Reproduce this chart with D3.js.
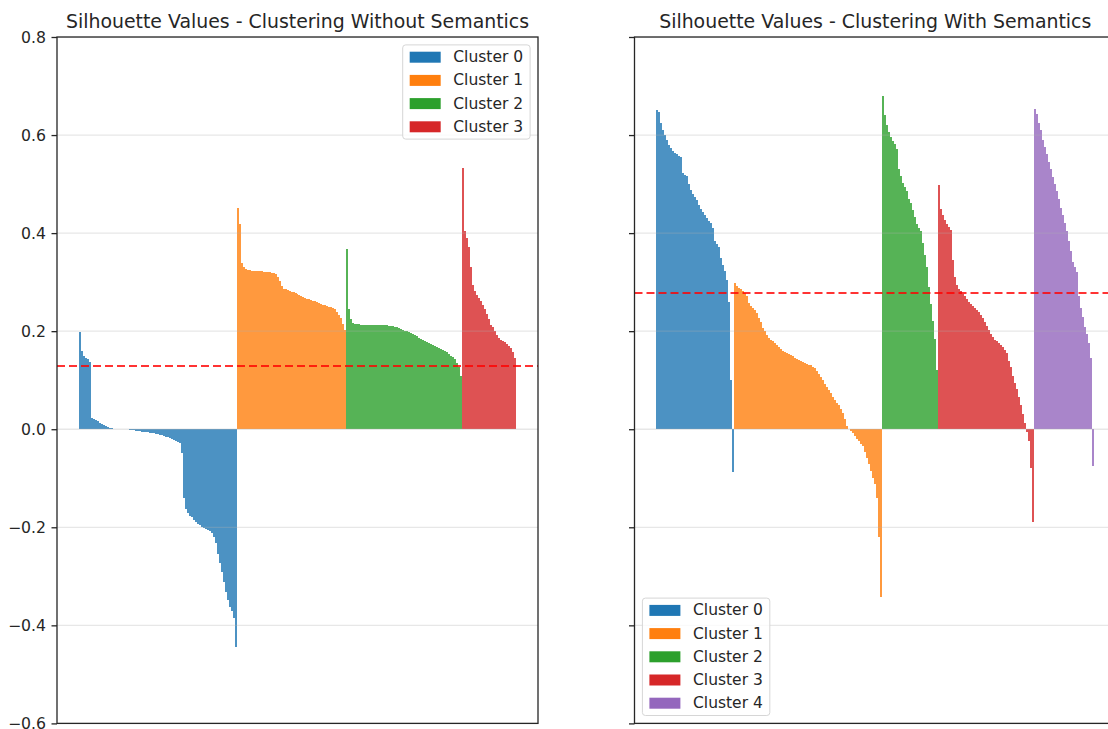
<!DOCTYPE html>
<html>
<head>
<meta charset="utf-8">
<script src="https://cdn.jsdelivr.net/npm/d3@7"></script>
<style>
  html, body { margin: 0; padding: 0; background: #ffffff; }
  svg { display: block; }
</style>
</head>
<body>
<svg id="chart" width="1108" height="729"></svg>
<script>
// ---- Silhouette values per cluster, sorted descending within each cluster ----

// Clustering without semantics (4 clusters)
const noSemCluster0 = [0.199,0.160,0.150,0.146,0.143,0.137,0.022,0.021,0.019,0.016,0.013,0.011,0.008,0.006,0.004,0.003,0.002,0.001,0.001,0.0005,0.0002,0.0,0.0,-0.0003,-0.0005,-0.001,-0.0015,-0.002,-0.003,-0.004,-0.0045,-0.005,-0.0055,-0.006,-0.0065,-0.007,-0.0075,-0.008,-0.009,-0.010,-0.011,-0.012,-0.013,-0.015,-0.016,-0.018,-0.019,-0.021,-0.023,-0.026,-0.029,-0.049,-0.140,-0.163,-0.170,-0.176,-0.180,-0.185,-0.189,-0.193,-0.196,-0.199,-0.202,-0.204,-0.206,-0.208,-0.211,-0.220,-0.232,-0.254,-0.272,-0.291,-0.312,-0.333,-0.349,-0.362,-0.371,-0.385,-0.444];
const noSemCluster1 = [0.452,0.418,0.340,0.330,0.327,0.325,0.324,0.323,0.322,0.322,0.322,0.322,0.322,0.321,0.321,0.321,0.320,0.319,0.318,0.317,0.310,0.302,0.292,0.287,0.285,0.283,0.282,0.280,0.279,0.277,0.276,0.274,0.272,0.270,0.268,0.266,0.265,0.264,0.262,0.261,0.259,0.257,0.256,0.254,0.253,0.251,0.250,0.249,0.247,0.245,0.239,0.233,0.226,0.215,0.203];
const noSemCluster2 = [0.367,0.245,0.225,0.217,0.2145,0.214,0.2138,0.2136,0.2136,0.2135,0.2135,0.2134,0.2134,0.2133,0.2132,0.2131,0.213,0.2129,0.2127,0.2125,0.212,0.2115,0.211,0.210,0.209,0.2075,0.206,0.204,0.202,0.201,0.200,0.199,0.197,0.195,0.193,0.190,0.187,0.185,0.182,0.180,0.177,0.175,0.173,0.171,0.169,0.167,0.166,0.164,0.162,0.160,0.157,0.153,0.150,0.147,0.143,0.136,0.127,0.108];
const noSemCluster3 = [0.533,0.405,0.390,0.372,0.330,0.295,0.281,0.274,0.268,0.262,0.254,0.245,0.235,0.224,0.213,0.208,0.201,0.193,0.186,0.182,0.179,0.177,0.174,0.170,0.165,0.157,0.145];
const noSemMean = 0.129;

// Clustering with semantics (5 clusters)
const semCluster0 = [0.652,0.648,0.625,0.610,0.601,0.590,0.580,0.573,0.568,0.564,0.561,0.558,0.555,0.523,0.519,0.516,0.500,0.488,0.480,0.474,0.468,0.458,0.450,0.443,0.436,0.431,0.425,0.420,0.410,0.383,0.378,0.372,0.350,0.335,0.322,0.304,0.260,0.100,-0.087];
const semCluster1 = [0.299,0.292,0.288,0.285,0.281,0.277,0.272,0.258,0.251,0.247,0.243,0.238,0.227,0.218,0.207,0.200,0.192,0.186,0.182,0.179,0.175,0.171,0.167,0.163,0.159,0.157,0.155,0.153,0.151,0.149,0.146,0.144,0.142,0.140,0.138,0.136,0.134,0.132,0.130,0.127,0.124,0.119,0.113,0.107,0.100,0.093,0.087,0.080,0.073,0.066,0.059,0.054,0.049,0.042,0.034,0.020,0.007,0.001,-0.004,-0.008,-0.013,-0.019,-0.024,-0.030,-0.035,-0.046,-0.058,-0.071,-0.085,-0.099,-0.112,-0.140,-0.220,-0.342];
const semCluster2 = [0.680,0.640,0.620,0.606,0.596,0.588,0.582,0.572,0.530,0.517,0.503,0.494,0.485,0.470,0.462,0.447,0.432,0.418,0.410,0.405,0.380,0.355,0.330,0.290,0.255,0.220,0.185,0.120];
const semCluster3 = [0.499,0.450,0.436,0.426,0.419,0.413,0.407,0.345,0.310,0.295,0.287,0.282,0.276,0.271,0.266,0.260,0.256,0.252,0.248,0.243,0.239,0.233,0.226,0.218,0.210,0.202,0.195,0.188,0.183,0.179,0.175,0.171,0.167,0.162,0.155,0.140,0.126,0.108,0.095,0.082,0.066,0.050,0.032,0.012,-0.005,-0.025,-0.080,-0.189];
const semCluster4 = [0.654,0.642,0.625,0.610,0.590,0.575,0.562,0.546,0.530,0.515,0.500,0.486,0.469,0.452,0.436,0.420,0.404,0.383,0.364,0.342,0.330,0.320,0.272,0.248,0.228,0.209,0.194,0.175,0.145,-0.075];
const semMean = 0.278;

const clusterLabels = ["Cluster 0", "Cluster 1", "Cluster 2", "Cluster 3", "Cluster 4"];
const yTickValues = [-0.6, -0.4, -0.2, 0.0, 0.2, 0.4, 0.6, 0.8];
const titles = [
  "Silhouette Values - Clustering Without Semantics",
  "Silhouette Values - Clustering With Semantics"
];

// ---- styling ----
const FONT = "'DejaVu Sans', Verdana, sans-serif";
const palette = ["#1f77b4", "#ff7f0e", "#2ca02c", "#d62728", "#9467bd"];
const TEXT = "#262626";
const TICK_FS = 15.7, TITLE_FS = 18.9, LEGEND_FS = 15.5;

const svg = d3.select("#chart");
svg.append("rect").attr("width", 1108).attr("height", 729).attr("fill", "#fff");

const plotTop = 37, plotBottom = 723.4;
const y = d3.scaleLinear().domain([-0.6, 0.8]).range([plotBottom, plotTop]);

function drawPanel(cfg) {
  const { left, right, clusters, mean, title, showTickLabels, legendCorner, id } = cfg;

  // flatten clusters into one sequence of samples
  const samples = [];
  clusters.forEach((vals, k) => vals.forEach(v => samples.push({ k, v })));
  const n = samples.length;
  const pad = 0.05 * n;
  const x = d3.scaleLinear().domain([-0.5 - pad, n - 0.5 + pad]).range([left, right]);

  const g = svg.append("g");

  g.append("clipPath").attr("id", "clip" + id)
    .append("rect").attr("x", left).attr("y", plotTop)
    .attr("width", right - left).attr("height", plotBottom - plotTop);

  const plot = g.append("g").attr("clip-path", `url(#clip${id})`);

  // bars
  plot.append("g").selectAll("rect").data(samples).join("rect")
    .attr("x", (d, i) => x(i - 0.5))
    .attr("width", (d, i) => x(i + 0.5) - x(i - 0.5))
    .attr("y", d => y(Math.max(0, d.v)))
    .attr("height", d => Math.abs(y(d.v) - y(0)))
    .attr("fill", d => palette[d.k])
    .attr("fill-opacity", 0.8)
    .attr("shape-rendering", "crispEdges");

  // horizontal grid
  plot.append("g").selectAll("line").data(yTickValues).join("line")
    .attr("x1", left).attr("x2", right)
    .attr("y1", d => y(d)).attr("y2", d => y(d))
    .attr("stroke", "#b0b0b0").attr("stroke-opacity", 0.3)
    .attr("stroke-width", 1.3);

  // mean silhouette value
  plot.append("line")
    .attr("x1", left).attr("x2", right)
    .attr("y1", y(mean)).attr("y2", y(mean))
    .attr("stroke", "#ff0000").attr("stroke-opacity", 0.8)
    .attr("stroke-width", 2).attr("stroke-dasharray", "8,4");

  // y axis
  const axis = d3.axisLeft(y).tickValues(yTickValues)
    .tickSize(5.5).tickPadding(5.5)
    .tickFormat(showTickLabels ? d3.format(".1f") : () => "");
  const ag = g.append("g").attr("transform", `translate(${left},0)`).call(axis);
  ag.select(".domain").remove();
  ag.selectAll(".tick line").attr("stroke", TEXT).attr("stroke-width", 1.3);
  ag.selectAll(".tick text").attr("fill", TEXT)
    .style("font-family", FONT).style("font-size", TICK_FS + "px");

  // frame
  g.append("rect").attr("x", left).attr("y", plotTop)
    .attr("width", right - left).attr("height", plotBottom - plotTop)
    .attr("fill", "none").attr("stroke", TEXT).attr("stroke-width", 1.3);

  // title
  g.append("text")
    .attr("x", (left + right) / 2).attr("y", 27.5)
    .attr("text-anchor", "middle")
    .attr("fill", TEXT)
    .style("font-family", FONT).style("font-size", TITLE_FS + "px")
    .text(title);

  // legend
  const labels = clusterLabels.slice(0, clusters.length);
  const rowPitch = 23.2, edgePad = 12.3, inset = 7.9;
  const boxH = edgePad * 2 + rowPitch * (labels.length - 1);
  const lg = g.append("g");
  const frame = lg.append("rect").attr("rx", 3).attr("ry", 3)
    .attr("fill", "#ffffff").attr("fill-opacity", 0.8)
    .attr("stroke", "#d6d6d6").attr("stroke-width", 1);
  const texts = lg.selectAll("text").data(labels).join("text")
    .attr("fill", TEXT)
    .attr("dominant-baseline", "central")
    .style("font-family", FONT).style("font-size", LEGEND_FS + "px")
    .text(d => d);
  let maxW = 0;
  texts.each(function () { maxW = Math.max(maxW, this.getComputedTextLength()); });
  const boxW = 7 + 31 + 12.6 + maxW + 7;
  let bx, by;
  if (legendCorner === "upper right") { bx = right - inset - boxW; by = plotTop + inset; }
  else { bx = left + inset; by = plotBottom - inset - boxH; }
  frame.attr("x", bx).attr("y", by).attr("width", boxW).attr("height", boxH);
  lg.selectAll("rect.patch").data(labels).join("rect").attr("class", "patch")
    .attr("x", bx + 7).attr("width", 31)
    .attr("y", (d, i) => by + edgePad + i * rowPitch - 5.5).attr("height", 11)
    .attr("fill", (d, i) => palette[i]);
  texts.attr("x", bx + 7 + 31 + 12.6)
    .attr("y", (d, i) => by + edgePad + i * rowPitch);
}

drawPanel({
  id: "a", left: 57, right: 538,
  clusters: [noSemCluster0, noSemCluster1, noSemCluster2, noSemCluster3],
  mean: noSemMean, title: titles[0], showTickLabels: true, legendCorner: "upper right"
});

drawPanel({
  id: "b", left: 634.5, right: 1116,
  clusters: [semCluster0, semCluster1, semCluster2, semCluster3, semCluster4],
  mean: semMean, title: titles[1], showTickLabels: false, legendCorner: "lower left"
});
</script>
</body>
</html>
